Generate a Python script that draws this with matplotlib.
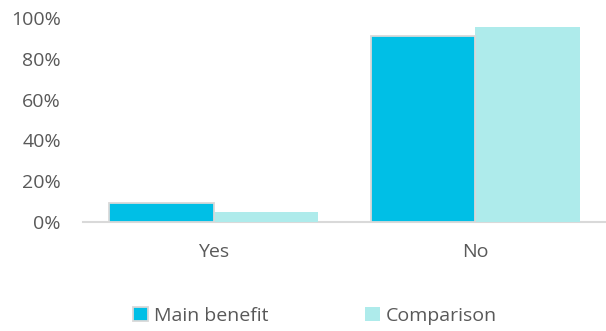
import matplotlib
matplotlib.use("Agg")
import matplotlib.pyplot as plt
from matplotlib.patches import Patch
import numpy as np

categories = ["Yes", "No"]
series_names = ["Main benefit", "Comparison"]
main_benefit = [0.092, 0.91]
comparison = [0.047, 0.956]
yticks = [0, 0.2, 0.4, 0.6, 0.8, 1.0]
ytick_labels = ["0%", "20%", "40%", "60%", "80%", "100%"]

c_main = "#00BFE6"
c_comp = "#AEEBEB"
c_edge = "#D9D9D9"
c_text = "#595959"

plt.rcParams['font.family'] = ['Open Sans', 'DejaVu Sans']

fig = plt.figure(figsize=(6.06, 3.31), dpi=100)
ax = fig.add_axes([83/606, 1-222/331, 1-83/606, 204/331])

x = np.arange(len(categories))
w = 0.4
ax.bar(x + w/2, comparison, w, color=c_comp, linewidth=0, zorder=2)
ax.bar(x - w/2, main_benefit, w, color=c_main, edgecolor=c_edge, linewidth=1.3, zorder=3)

ax.set_xlim(-0.5, 1.5)
ax.set_ylim(0, 1.0)
ax.set_yticks(yticks)
ax.set_yticklabels(ytick_labels)
ax.set_xticks(x)
ax.set_xticklabels(categories)
ax.tick_params(axis='both', length=0, colors=c_text, labelsize=14)
ax.tick_params(axis='y', pad=16)
ax.tick_params(axis='x', pad=15)
for s in ["top", "right", "left"]:
    ax.spines[s].set_visible(False)
ax.spines["bottom"].set_color(c_edge)
ax.spines["bottom"].set_linewidth(1.5)
ax.spines["bottom"].set_zorder(1)

handles = [Patch(facecolor=c_main, edgecolor=c_edge, linewidth=1.3),
           Patch(facecolor=c_comp, edgecolor='none')]
leg = fig.legend(handles, series_names, loc='center', bbox_to_anchor=(0.52, 1-316/331),
                 ncol=2, frameon=False, fontsize=14, handlelength=0.75, handleheight=0.75,
                 handletextpad=0.3, columnspacing=5.0, labelcolor=c_text)

fig.savefig("out.png", dpi=100)
